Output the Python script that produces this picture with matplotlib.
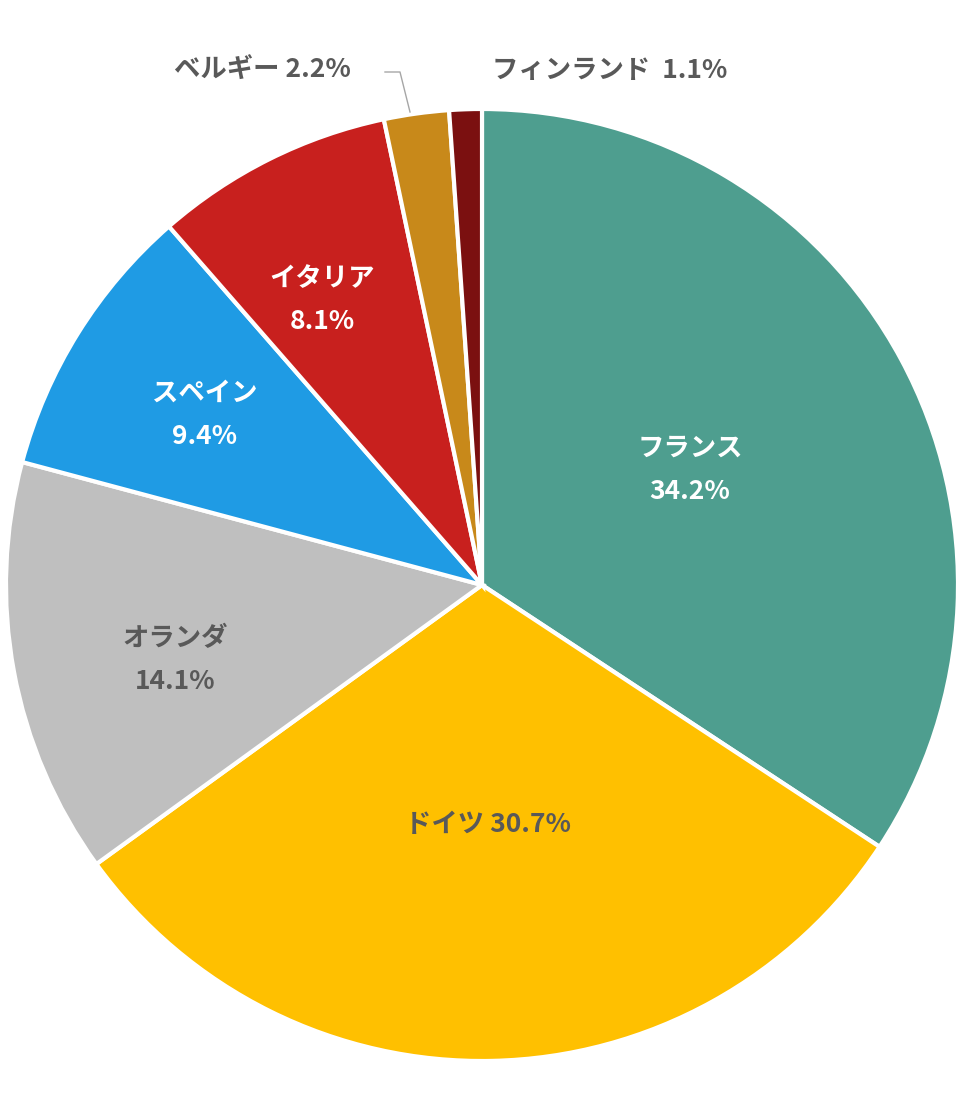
import matplotlib
matplotlib.use("Agg")
import matplotlib.pyplot as plt

plt.rcParams['font.family'] = ['Noto Sans CJK JP', 'DejaVu Sans']

countries = ["フランス", "ドイツ", "オランダ", "スペイン", "イタリア", "ベルギー", "フィンランド"]
shares = [34.2, 30.7, 14.1, 9.4, 8.1, 2.2, 1.1]
colors = ["#4E9E8F", "#FFC000", "#BFBFBF", "#1F9BE4", "#C8201E", "#C8891A", "#7B1010"]

W, H = 964, 1107
fig = plt.figure(figsize=(W/100, H/100), dpi=100)
cx, cy, r = 482, 585, 476
ax = fig.add_axes([(cx-r)/W, (H-cy-r)/H, 2*r/W, 2*r/H])
ax.pie(shares, colors=colors, startangle=90, counterclock=False,
       wedgeprops=dict(edgecolor="white", linewidth=3))
ax.set_xlim(-1, 1)
ax.set_ylim(-1, 1)
ax.set_aspect("equal")

def put(x, y, s, c):
    fig.text(x/W, 1-y/H, s, color=c, fontsize=19, fontweight="bold",
             ha="center", va="center", linespacing=1.8)

put(690, 470, f"{countries[0]}\n{shares[0]}%", "white")
put(488, 825, f"{countries[1]} {shares[1]}%", "#595959")
put(175, 660, f"{countries[2]}\n{shares[2]}%", "#595959")
put(205, 415, f"{countries[3]}\n{shares[3]}%", "white")
put(322, 300, f"{countries[4]}\n{shares[4]}%", "white")
put(262, 70, f"{countries[5]} {shares[5]}%", "#595959")
put(610, 70, f"{countries[6]}  {shares[6]}%", "#595959")
fig.add_artist(plt.Line2D([385/W, 400/W, 410/W], [1-72/H, 1-72/H, 1-112/H],
                          color="#A6A6A6", lw=1))
fig.savefig("out.png", dpi=100, facecolor="white")
